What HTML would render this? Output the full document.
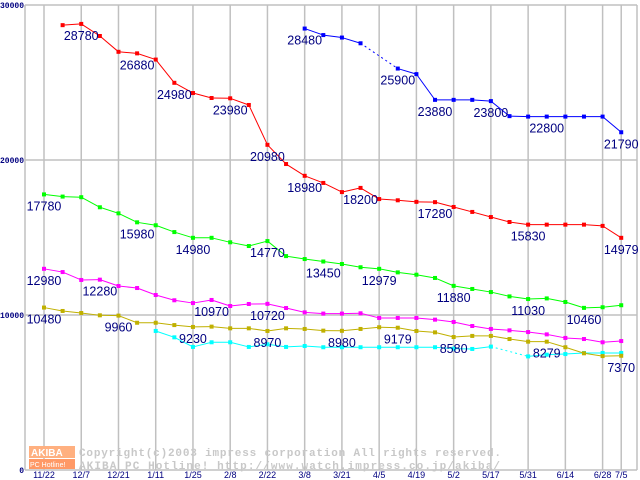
<!DOCTYPE html>
<html><head><meta charset="utf-8"><style>
body{margin:0;background:#fff;width:640px;height:480px;overflow:hidden}
svg{display:block}
</style></head><body>
<svg id="chart" width="640" height="480" xmlns="http://www.w3.org/2000/svg"></svg>
<script>
const categories=["11/22","","12/7","","12/21","","1/11","","1/25","","2/8","","2/22","","3/8","","3/21","","4/5","","4/19","","5/2","","5/17","","5/31","","6/14","","6/28","7/5"];
const yTicks=[0,10000,20000,30000];
const N=null;
const redVals=[N,28700,28780,28000,26980,26880,26480,24980,24320,24000,23980,23550,20980,19740,18980,18520,17930,18200,17480,17400,17300,17280,16970,16650,16320,16000,15830,15830,15830,15830,15750,14979];
const blueVals=[N,N,N,N,N,N,N,N,N,N,N,N,N,N,28480,28060,27900,27530,N,25900,25540,23880,23880,23880,23800,22830,22800,22800,22800,22800,22800,21790];
const greenVals=[17780,17640,17600,16950,16560,15980,15790,15350,14980,14980,14690,14450,14770,13800,13610,13450,13290,13080,12979,12750,12600,12390,11880,11680,11480,11200,11030,11070,10840,10460,10500,10630];
const magentaVals=[12980,12770,12260,12280,11870,11740,11290,10950,10770,10970,10580,10710,10720,10450,10170,10090,10090,10110,9810,9810,9810,9700,9550,9290,9100,9010,8900,8750,8520,8450,8240,8320];
const oliveVals=[10480,10260,10130,9980,9960,9500,9500,9350,9230,9250,9140,9140,8970,9140,9100,8990,8980,9100,9210,9179,8970,8880,8580,8650,8650,8450,8280,8279,7920,7530,7350,7370];
const cyanVals=[N,N,N,N,N,N,8970,8560,7940,8240,8240,7940,8110,7940,8000,7920,7920,7920,7920,7920,7920,7920,7830,7810,7960,N,7330,7440,7480,7550,7550,7550];
const redLabels=[2,5,7,10,12,14,17,21,26,31];
const blueLabels=[14,19,21,24,27,31];
const greenLabels=[0,5,8,12,15,18,22,26,29];
const magentaLabels=[0,3,9,12];
const oliveLabels=[0,4,8,12,16,19,22,27,31];
const cyanLabels=[];
const series=[
 {name:"cyan",vals:cyanVals,color:"#00ffff",labels:cyanLabels},
 {name:"olive",vals:oliveVals,color:"#c0b000",labels:oliveLabels},
 {name:"magenta",vals:magentaVals,color:"#ff00ff",labels:magentaLabels},
 {name:"green",vals:greenVals,color:"#00ff00",labels:greenLabels},
 {name:"red",vals:redVals,color:"#ff0000",labels:redLabels},
 {name:"blue",vals:blueVals,color:"#0000ff",labels:blueLabels}
];
const L=25,R=637,T=5,B=470;
const xs=i=>44+i*18.62;
const ys=v=>B-(v/30000)*(B-T);
const NS="http://www.w3.org/2000/svg";
const svg=document.getElementById('chart');
function mk(tag,at,parent){const e=document.createElementNS(NS,tag);for(const k in at)e.setAttribute(k,at[k]);(parent||svg).appendChild(e);return e;}
categories.forEach((c,i)=>{ if(c){
 const g=mk('line',{x1:xs(i),x2:xs(i),y1:T,y2:B,stroke:'#c0c0c0','stroke-width':1.5});
 
 
 const t=mk('text',{x:xs(i),y:478,'text-anchor':'middle','font-family':'Liberation Sans, sans-serif','font-size':9,fill:'#000080'});
 t.textContent=c;
 
 
}});
yTicks.forEach(v=>{
 const g=mk('line',{x1:L,x2:R,y1:ys(v),y2:ys(v),stroke:'#c0c0c0','stroke-width':1.5});
 
 
 const t=mk('text',{x:L-1,y:ys(v)+3,'text-anchor':'end','font-family':'Liberation Mono, monospace','font-size':8,'font-weight':'bold',fill:'#000080'});
 t.textContent=String(v);
 
 
});
const ax=mk('line',{x1:L,x2:L,y1:T,y2:B,stroke:'#c0c0c0','stroke-width':1.5});


const ax2=mk('line',{x1:R,x2:R,y1:T,y2:B,stroke:'#c0c0c0','stroke-width':1.5});


const wm=mk('g',{});


mk('rect',{x:29,y:446,width:46,height:12,fill:'#ffb080'},wm);
mk('rect',{x:29,y:459,width:46,height:10,fill:'#ff9966'},wm);
const w1=mk('text',{x:31,y:456,'font-family':'Liberation Sans, sans-serif','font-size':10,'font-weight':'bold',fill:'#fff'},wm);w1.textContent='AKIBA';
const w2=mk('text',{x:30,y:467,'font-family':'Liberation Sans, sans-serif','font-size':7,fill:'#fff'},wm);w2.textContent='PC Hotline!';
const w3=mk('text',{x:79,y:456,'font-family':'Liberation Mono, monospace','font-size':11,'font-weight':'bold',fill:'#c8c8c8',textLength:422,lengthAdjust:'spacing'},wm);w3.textContent='Copyright(c)2003 impress corporation All rights reserved.';
const w4=mk('text',{x:79,y:469,'font-family':'Liberation Mono, monospace','font-size':11,'font-weight':'bold',fill:'#c8c8c8',textLength:421,lengthAdjust:'spacing'},wm);w4.textContent='AKIBA PC Hotline!  http://www.watch.impress.co.jp/akiba/';
series.forEach(s=>{
 const g=mk('g',{});
 
 
 let prev=-1;
 s.vals.forEach((v,i)=>{
  if(v===null)return;
  if(prev>=0){
   const ln=mk('line',{x1:xs(prev),y1:ys(s.vals[prev]),x2:xs(i),y2:ys(v),stroke:s.color,'stroke-width':1},g);
   if(i-prev>1)ln.setAttribute('stroke-dasharray','2,3');
   
   
  }
  prev=i;
 });
 s.vals.forEach((v,i)=>{
  if(v===null)return;
  const p=mk('rect',{x:xs(i)-2,y:ys(v)-2,width:4,height:4,fill:s.color},g);
  
  
 });
 s.labels.forEach(i=>{
  const t=mk('text',{x:xs(i),y:ys(s.vals[i])+16,'text-anchor':'middle','font-family':'Liberation Sans, sans-serif','font-size':12.5,fill:'#000080'},g);
  t.textContent=String(s.vals[i]);
  
  
 });
});
</script>
</body></html>
